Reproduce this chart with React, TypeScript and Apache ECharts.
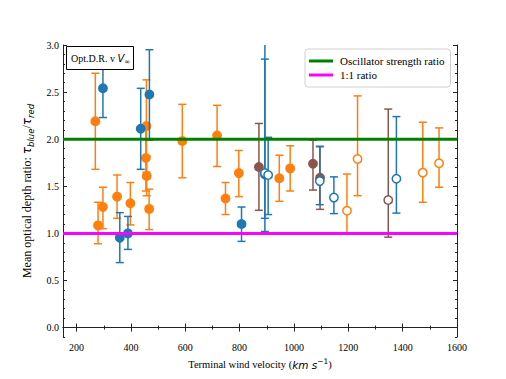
import React, { useEffect, useRef } from "react";
import * as echarts from "echarts";

// [velocity, ratio, lower end of error bar, upper end of error bar]
const orangeFilled: number[][] = [
  [269, 2.19, 1.68, 2.7],
  [279, 1.085, 0.89, 1.33],
  [297, 1.28, 1.05, 1.49],
  [349, 1.39, 1.16, 1.62],
  [398, 1.32, 1.09, 1.54],
  [457, 2.14, 1.65, 2.63],
  [455, 1.8, 1.45, 2.15],
  [458, 1.61, 1.4, 1.82],
  [467, 1.26, 1.04, 1.47],
  [589, 1.98, 1.59, 2.37],
  [717, 2.04, 1.71, 2.36],
  [748, 1.37, 1.2, 1.54],
  [797, 1.64, 1.39, 1.88],
  [946, 1.585, 1.34, 1.83],
  [986, 1.69, 1.45, 1.93],
];
const blueFilled: number[][] = [
  [297, 2.54, 2.23, 2.85],
  [436, 2.11, 1.68, 2.54],
  [468, 2.475, 1.99, 2.95],
  [359, 0.955, 0.69, 1.22],
  [389, 1.0, 0.83, 1.18],
  [807, 1.1, 0.915, 1.28],
];
const brownFilled: number[][] = [
  [871, 1.705, 1.245, 2.167],
  [1070, 1.74, 1.46, 1.99],
  [1096, 1.59, 1.255, 1.92],
];
const blueOpen: number[][] = [
  [893, 1.625, 1.02, 3.4],
  [893, 1.64, 1.16, 2.85],
  [905, 1.62, 1.2, 2.02],
  [1095, 1.555, 1.305, 1.925],
  [1147, 1.38, 1.21, 1.6],
  [1377, 1.58, 1.215, 2.24],
];
const orangeOpen: number[][] = [
  [1195, 1.24, 1.0, 1.63],
  [1234, 1.79, 1.4, 2.46],
  [1474, 1.645, 1.33, 2.18],
  [1534, 1.745, 1.49, 2.12],
];
const brownOpen: number[][] = [[1347, 1.355, 0.96, 2.32]];

const oscillatorRatio = 2.0;
const unityRatio = 1.0;

const xRange = [150, 1600];
const yRange = [-0.1, 3.0];
const xMajor = [200, 400, 600, 800, 1000, 1200, 1400, 1600];
const xMinor = [300, 500, 700, 900, 1100, 1300, 1500];
const yMajor = [0, 0.5, 1.0, 1.5, 2.0, 2.5, 3.0];
const yMinor = [-0.1, 0.1, 0.2, 0.3, 0.4, 0.6, 0.7, 0.8, 0.9, 1.1, 1.2, 1.3, 1.4, 1.6, 1.7, 1.8, 1.9, 2.1, 2.2, 2.3, 2.4, 2.6, 2.7, 2.8, 2.9];

const ORANGE = "#ff7f0e";
const BLUE = "#1f77b4";
const BROWN = "#8c564b";
const SERIF = "Liberation Serif";
const MATH = "DejaVu Sans";

function errSeries(name: string, data: number[][], color: string, open: boolean) {
  return {
    type: "custom",
    name,
    xAxisIndex: 0,
    yAxisIndex: 0,
    data,
    z: 3,
    renderItem: (params: any, api: any) => {
      const x = api.value(0);
      const y = api.value(1);
      const lo = api.value(2);
      const hi = api.value(3);
      const p = api.coord([x, y]);
      const pl = api.coord([x, lo]);
      const ph = api.coord([x, hi]);
      const cs = params.coordSys;
      const top = cs.y;
      const bottom = cs.y + cs.height;
      const yTop = Math.max(ph[1], top);
      const yBot = Math.min(pl[1], bottom);
      const children: any[] = [];
      const ls = { stroke: color, lineWidth: 1.5 };
      children.push({ type: "line", shape: { x1: p[0], y1: yTop, x2: p[0], y2: yBot }, style: ls });
      if (ph[1] >= top) children.push({ type: "line", shape: { x1: p[0] - 4, y1: ph[1], x2: p[0] + 4, y2: ph[1] }, style: ls });
      if (pl[1] <= bottom) children.push({ type: "line", shape: { x1: p[0] - 4, y1: pl[1], x2: p[0] + 4, y2: pl[1] }, style: ls });
      children.push({
        type: "circle",
        shape: { cx: p[0], cy: p[1], r: 4.2 },
        style: { fill: open ? "#fff" : color, stroke: color, lineWidth: 1.5 },
      });
      return { type: "group", children };
    },
  };
}

function hLine(name: string, value: number, color: string) {
  return {
    type: "line",
    name,
    xAxisIndex: 0,
    yAxisIndex: 0,
    data: [
      [xRange[0], value],
      [xRange[1], value],
    ],
    symbol: "none",
    lineStyle: { color, width: 3 },
    itemStyle: { color },
    z: 5,
  };
}

const axisLineStyle = { show: true, lineStyle: { color: "#222", width: 1 } };

function xAx(position: string, ticks: number[], len: number, labels: boolean, line: boolean, extra: any = {}) {
  return {
    type: "value",
    position,
    min: xRange[0],
    max: xRange[1],
    axisLine: line ? axisLineStyle : { show: false },
    axisTick: { show: true, inside: true, length: len, customValues: ticks, lineStyle: { color: "#222", width: 1 } },
    axisLabel: labels
      ? {
          show: true,
          customValues: ticks,
          fontFamily: SERIF,
          fontSize: 10,
          color: "#000",
          margin: 5,
          formatter: (v: number) => String(v),
        }
      : { show: false },
    splitLine: { show: false },
    ...extra,
  };
}
function yAx(position: string, ticks: number[], len: number, labels: boolean, line: boolean, extra: any = {}) {
  return {
    type: "value",
    position,
    min: yRange[0],
    max: yRange[1],
    axisLine: line ? axisLineStyle : { show: false },
    axisTick: { show: true, inside: true, length: len, customValues: ticks, lineStyle: { color: "#222", width: 1 } },
    axisLabel: labels
      ? {
          show: true,
          customValues: ticks,
          fontFamily: SERIF,
          fontSize: 10,
          color: "#000",
          margin: 4,
          formatter: (v: number) => v.toFixed(1),
        }
      : { show: false },
    splitLine: { show: false },
    ...extra,
  };
}

export default function App() {
  const ref = useRef<HTMLDivElement>(null);
  useEffect(() => {
    if (!ref.current) return;
    const chart = echarts.init(ref.current, undefined, { renderer: "svg" });
    chart.setOption({
      animation: false,
      backgroundColor: "#fff",
      grid: { left: 63, right: 49, top: 45, bottom: 42, containLabel: false },
      xAxis: [
        xAx("bottom", xMajor, 4, true, true, {
          name: "Terminal wind velocity ({m|km s}{sup|−1})",
          nameLocation: "middle",
          nameGap: 20,
          nameTextStyle: {
            fontFamily: SERIF,
            fontSize: 10.5,
            color: "#000",
            rich: {
              m: { fontFamily: MATH, fontStyle: "italic", fontSize: 10.5, color: "#000", verticalAlign: "middle", lineHeight: 15 },
              sup: { fontFamily: MATH, fontSize: 7.5, color: "#000", verticalAlign: "top", lineHeight: 15 },
            },
          },
        }),
        xAx("bottom", xMinor, 2, false, false),
        xAx("top", xMajor, 4, false, true),
        xAx("top", xMinor, 2, false, false),
      ],
      yAxis: [
        yAx("left", yMajor, 4, true, true, {
          name: "Mean optical depth ratio: {t|τ}{sub|blue}/{t|τ}{sub|red}",
          nameLocation: "middle",
          nameRotate: 90,
          nameGap: 25,
          nameTextStyle: {
            fontFamily: SERIF,
            fontSize: 12,
            color: "#000",
            rich: {
              t: { fontFamily: MATH, fontStyle: "italic", fontSize: 12, color: "#000", verticalAlign: "middle", lineHeight: 17 },
              sub: { fontFamily: MATH, fontStyle: "italic", fontSize: 8.5, color: "#000", verticalAlign: "bottom", lineHeight: 17 },
            },
          },
        }),
        yAx("left", yMinor, 2, false, false),
        yAx("right", yMajor, 4, false, true),
        yAx("right", yMinor, 2, false, false),
      ],
      legend: {
        data: [
          { name: "Oscillator strength ratio", icon: "rect" },
          { name: "1:1 ratio", icon: "rect" },
        ],
        orient: "vertical",
        left: 305,
        top: 49,
        padding: [6, 6, 6, 4],
        itemWidth: 24,
        itemHeight: 3,
        itemGap: 2,
        borderColor: "#d0d0d0",
        borderWidth: 1,
        borderRadius: 3,
        backgroundColor: "rgba(255,255,255,0.85)",
        selectedMode: false,
        textStyle: { fontFamily: SERIF, fontSize: 11, color: "#000", padding: [0, 0, 0, 2], lineHeight: 12 },
      },
      series: [
        errSeries("of", orangeFilled, ORANGE, false),
        errSeries("bf", blueFilled, BLUE, false),
        errSeries("brf", brownFilled, BROWN, false),
        errSeries("oo", orangeOpen, ORANGE, true),
        errSeries("bo", blueOpen, BLUE, true),
        errSeries("bro", brownOpen, BROWN, true),
        hLine("Oscillator strength ratio", oscillatorRatio, "#008000"),
        hLine("1:1 ratio", unityRatio, "#ff00ff"),
      ],
      graphic: [
        {
          type: "rect",
          shape: { x: 66.5, y: 46.5, width: 67, height: 23 },
          style: { fill: "#fff", stroke: "#000", lineWidth: 1 },
          z: 10,
        },
        {
          type: "text",
          x: 71,
          y: 58,
          z: 11,
          style: {
            text: "Opt.D.R. v {v|V}{s|∞}",
            fontFamily: SERIF,
            fontSize: 10,
            fill: "#000",
            verticalAlign: "middle",
            rich: {
              v: { fontFamily: MATH, fontStyle: "italic", fontSize: 10, fill: "#000", verticalAlign: "middle", lineHeight: 15 },
              s: { fontFamily: MATH, fontSize: 7, fill: "#000", verticalAlign: "bottom", lineHeight: 15 },
            },
          },
        },
      ],
    });
    return () => chart.dispose();
  }, []);
  return <div ref={ref} style={{ position: "fixed", left: 0, top: 0, width: 506, height: 379 }} />;
}
